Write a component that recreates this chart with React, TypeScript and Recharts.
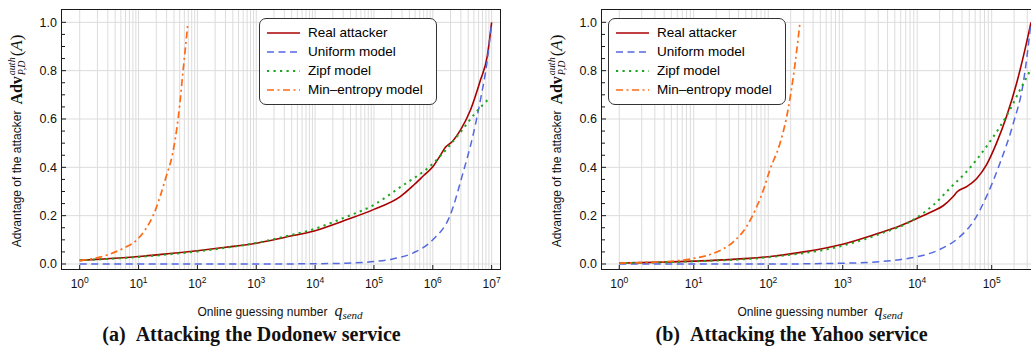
import React from 'react';
import { LineChart, Line, XAxis, YAxis, CartesianGrid, Legend } from 'recharts';

type Pt = [number, number];

// axis ticks
const yTicks = [0, 0.05, 0.1, 0.15, 0.2, 0.25, 0.3, 0.35, 0.4, 0.45, 0.5, 0.55, 0.6, 0.65, 0.7, 0.75, 0.8, 0.85, 0.9, 0.95, 1.0];
const yMajor = [0, 0.2, 0.4, 0.6, 0.8, 1.0];
const dodonewDecades = [1, 10, 100, 1e3, 1e4, 1e5, 1e6, 1e7];
const yahooDecades = [1, 10, 100, 1e3, 1e4, 1e5];
const minorSteps = [1, 2, 3, 4, 5, 6, 7, 8, 9];

// (a) Dodonew, [guesses, advantage]
const dodonewReal: Pt[] = [
  [1, 0.015], [3, 0.022], [10, 0.031], [30, 0.042], [100, 0.055], [300, 0.069],
  [1e3, 0.086], [3e3, 0.11], [1e4, 0.138], [3e4, 0.178], [1e5, 0.226], [2.8e5, 0.279],
  [4.75e5, 0.327], [7e5, 0.366], [1e6, 0.402], [1.35e6, 0.45], [1.64e6, 0.483],
  [2.13e6, 0.506], [2.95e6, 0.554], [4.37e6, 0.637], [6.46e6, 0.761], [8.4e6, 0.858], [1e7, 1.0],
];
const dodonewUniform: Pt[] = [
  [1, 0], [10, 0], [100, 0], [1e3, 0], [1e4, 0.001], [3e4, 0.003], [1e5, 0.01], [2e5, 0.02],
  [4.75e5, 0.047], [1e6, 0.1], [2e6, 0.205], [3.2e6, 0.37], [4.8e6, 0.53], [6.46e6, 0.68],
  [8.4e6, 0.84], [1e7, 1.0],
];
const dodonewZipf: Pt[] = [
  [1, 0.015], [3, 0.021], [10, 0.029], [30, 0.039], [100, 0.052], [300, 0.067], [1e3, 0.087],
  [3e3, 0.113], [1e4, 0.146], [3e4, 0.19], [1e5, 0.245], [2.8e5, 0.318], [1e6, 0.415],
  [2.95e6, 0.545], [5.1e6, 0.62], [9.5e6, 0.69],
];
const dodonewMinEntropy: Pt[] = [
  [1, 0.014], [1.6, 0.021], [2.9, 0.037], [5.5, 0.065], [9.3, 0.099], [12.9, 0.141],
  [17.9, 0.203], [23.2, 0.279], [29.3, 0.36], [38, 0.458], [47.5, 0.61], [58, 0.817], [68.5, 0.99],
];

// (b) Yahoo
const yahooReal: Pt[] = [
  [1, 0.004], [10, 0.012], [30, 0.018], [100, 0.03], [300, 0.05], [1e3, 0.082], [3e3, 0.127],
  [5.8e3, 0.157], [1e4, 0.189], [1.64e4, 0.219], [2.23e4, 0.241], [3.04e4, 0.279],
  [3.44e4, 0.299], [4.6e4, 0.32], [6.3e4, 0.354], [8.5e4, 0.41], [1.16e5, 0.5],
  [1.58e5, 0.61], [2.16e5, 0.748], [2.79e5, 0.886], [3.37e5, 1.0],
];
const yahooUniform: Pt[] = [
  [1, 0], [100, 0], [1e3, 0.003], [5.8e3, 0.018], [1e4, 0.03], [2e4, 0.06], [3.74e4, 0.113],
  [5.65e4, 0.175], [8.5e4, 0.279], [1.29e5, 0.417], [1.95e5, 0.582], [2.65e5, 0.748], [3.37e5, 1.0],
];
const yahooZipf: Pt[] = [
  [1, 0.004], [10, 0.011], [100, 0.028], [1e3, 0.076], [3e3, 0.122], [1e4, 0.193],
  [1.64e4, 0.244], [3.04e4, 0.327], [4.6e4, 0.382], [8.5e4, 0.486], [1.29e5, 0.568],
  [1.75e5, 0.637], [2.39e5, 0.72], [3.37e5, 0.806],
];
const yahooMinEntropy: Pt[] = [
  [1, 0.004], [4.3, 0.01], [9.9, 0.023], [18.3, 0.044], [34, 0.092], [51, 0.154], [70, 0.237],
  [86, 0.306], [105, 0.389], [144, 0.5], [177, 0.61], [217, 0.775], [267, 1.0],
];

const series = [
  { key: 'real', name: 'Real attacker', color: '#a80000', dash: undefined as string | undefined, width: 1.6 },
  { key: 'uniform', name: 'Uniform model', color: '#5468e0', dash: '7 4.5', width: 1.5 },
  { key: 'zipf', name: 'Zipf model', color: '#1fa51f', dash: '2.2 4.3', width: 2 },
  { key: 'minEntropy', name: 'Min\u2013entropy model', color: '#ff6a14', dash: '7 3.5 2 3.5', width: 1.7 },
];

const SANS = '"Liberation Sans", Arial, Helvetica, sans-serif';
const SERIF = '"Liberation Serif", "Times New Roman", serif';
const INK = '#1a1a1a';

const rows = (pts: Pt[]) => pts.map(([x, y]) => ({ x, y }));

const XTick = (props: any) => {
  const { x, y, payload } = props;
  const exp = Math.round(Math.log10(payload.value));
  return (
    <g>
      <line x1={x} x2={x} y1={y} y2={y - 4} stroke={INK} strokeWidth={1} />
      <text x={x} y={y + 18.5} textAnchor="middle" fontSize={12} fill="#111" fontFamily={SANS}>
        10<tspan dy={-5} fontSize={8.5}>{exp}</tspan>
      </text>
    </g>
  );
};

const YTick = (props: any) => {
  const { x, y, payload } = props;
  const major = yMajor.some((v) => Math.abs(v - payload.value) < 1e-6);
  return (
    <g>
      <line x1={x} x2={x + (major ? 4 : 3)} y1={y} y2={y} stroke={INK} strokeWidth={1} />
      {major && (
        <text x={x - 5} y={y} dy="0.35em" textAnchor="end" fontSize={12.5} fill="#111" fontFamily={SANS}>
          {payload.value.toFixed(1)}
        </text>
      )}
    </g>
  );
};

const LegendBox = () => (
  <div
    style={{
      width: 178,
      height: 87.5,
      boxSizing: 'border-box',
      border: '1px solid #333',
      borderRadius: 7,
      background: '#fff',
      paddingTop: 4.5,
      fontFamily: SANS,
    }}
  >
    {series.map((s) => (
      <div key={s.key} style={{ display: 'flex', alignItems: 'center', height: 19 }}>
        <svg width={33} height={6} style={{ marginLeft: 7, marginRight: 8 }}>
          <line x1={0} x2={33} y1={3} y2={3} stroke={s.color} strokeWidth={s.width} strokeDasharray={s.dash} />
        </svg>
        <span style={{ fontSize: 13.5, color: '#000', lineHeight: '19px' }}>{s.name}</span>
      </div>
    ))}
  </div>
);

interface PanelProps {
  left: number;
  width: number;
  yAxisWidth: number;
  marginRight: number;
  xDomain: [number, number];
  decades: number[];
  data: Pt[][];
  legendLeft: number;
  frameRight: boolean;
}

const PLOT_TOP = 10;
const PLOT_H = 259;

const Panel = ({ left, width, yAxisWidth, marginRight, xDomain, decades, data, legendLeft, frameRight }: PanelProps) => {
  const plotW = width - yAxisWidth - marginRight;
  const minor = decades
    .flatMap((d) => minorSteps.map((m) => d * m))
    .filter((v) => v >= xDomain[0] && v <= xDomain[1]);
  return (
    <div style={{ position: 'absolute', left, top: 0, width, height: 300 }}>
      <LineChart width={width} height={300} margin={{ top: PLOT_TOP, right: marginRight, bottom: 0, left: 0 }}>
        <CartesianGrid
          stroke="#dcdcdc"
          strokeWidth={1}
          verticalValues={minor}
          horizontalValues={yMajor}
        />
        <XAxis
          dataKey="x"
          type="number"
          scale="log"
          domain={xDomain}
          allowDataOverflow
          ticks={decades}
          interval={0}
          height={31}
          axisLine={false}
          tickLine={false}
          tickSize={0}
          tickMargin={0}
          tick={XTick}
        />
        <YAxis
          type="number"
          domain={[-0.0207, 1.051]}
          allowDataOverflow
          ticks={yTicks}
          interval={0}
          width={yAxisWidth}
          axisLine={false}
          tickLine={false}
          tickSize={0}
          tickMargin={0}
          tick={YTick}
        />
        <Legend
          layout="vertical"
          align="center"
          verticalAlign="middle"
          content={() => <LegendBox />}
          wrapperStyle={{ left: legendLeft, top: 17.5, width: 178, height: 88 }}
        />
        {series.map((s, i) => (
          <Line
            key={s.key}
            data={rows(data[i])}
            dataKey="y"
            name={s.name}
            type="monotone"
            stroke={s.color}
            strokeWidth={s.width}
            strokeDasharray={s.dash}
            dot={false}
            activeDot={false}
            isAnimationActive={false}
          />
        ))}
      </LineChart>
      <div
        style={{
          position: 'absolute',
          left: yAxisWidth - 0.75,
          top: PLOT_TOP - 0.75,
          width: plotW + 1.5,
          height: PLOT_H + 1.5,
          boxSizing: 'border-box',
          border: `1.5px solid ${INK}`,
          borderRight: frameRight ? `1.5px solid ${INK}` : 'none',
          pointerEvents: 'none',
        }}
      />
    </div>
  );
};

const YLabel = ({ cx }: { cx: number }) => (
  <div
    style={{
      position: 'absolute',
      left: cx,
      top: 141,
      transform: 'translate(-50%, -50%) rotate(-90deg)',
      whiteSpace: 'nowrap',
      display: 'flex',
      alignItems: 'center',
      color: '#111',
    }}
  >
    <span style={{ fontFamily: SANS, fontSize: 12 }}>Advantage of the attacker</span>
    <span style={{ fontFamily: SERIF, fontWeight: 'bold', fontSize: 16, marginLeft: 6 }}>Adv</span>
    <span
      style={{
        display: 'inline-flex',
        flexDirection: 'column',
        fontFamily: SERIF,
        fontStyle: 'italic',
        fontSize: 10,
        lineHeight: '10px',
        marginLeft: 1,
      }}
    >
      <span>auth</span>
      <span>P,D</span>
    </span>
    <span style={{ fontFamily: SERIF, fontSize: 17, marginLeft: 1 }}>
      (<i>A</i>)
    </span>
  </div>
);

const XLabel = ({ cx }: { cx: number }) => (
  <div
    style={{
      position: 'absolute',
      left: cx,
      top: 311,
      transform: 'translate(-50%, -50%)',
      whiteSpace: 'nowrap',
      color: '#111',
      lineHeight: '18px',
    }}
  >
    <span style={{ fontFamily: SANS, fontSize: 12 }}>Online guessing number</span>
    <span style={{ fontFamily: SERIF, fontStyle: 'italic', fontSize: 16, marginLeft: 7 }}>q</span>
    <span style={{ fontFamily: SERIF, fontStyle: 'italic', fontSize: 11, position: 'relative', top: 3 }}>send</span>
  </div>
);

const Caption = ({ cx, tag, text }: { cx: number; tag: string; text: string }) => (
  <div
    style={{
      position: 'absolute',
      left: cx,
      top: 334,
      transform: 'translate(-50%, -50%)',
      whiteSpace: 'nowrap',
      fontFamily: SERIF,
      fontWeight: 'bold',
      fontSize: 20,
      lineHeight: '24px',
      color: '#111',
    }}
  >
    <span style={{ marginRight: 10 }}>{tag}</span>
    {text}
  </div>
);

export default function App() {
  return (
    <div
      style={{
        position: 'absolute',
        left: 0,
        top: 0,
        width: 1031,
        height: 350,
        background: '#fff',
        overflow: 'hidden',
      }}
    >
      <Panel
        left={0}
        width={515}
        yAxisWidth={62}
        marginRight={15}
        xDomain={[0.5, 1.387e7]}
        decades={dodonewDecades}
        data={[dodonewReal, dodonewUniform, dodonewZipf, dodonewMinEntropy]}
        legendLeft={259}
        frameRight
      />
      <Panel
        left={515}
        width={516}
        yAxisWidth={87}
        marginRight={0}
        xDomain={[0.586, 3.37e5]}
        decades={yahooDecades}
        data={[yahooReal, yahooUniform, yahooZipf, yahooMinEntropy]}
        legendLeft={93}
        frameRight={false}
      />
      <YLabel cx={17} />
      <YLabel cx={557} />
      <XLabel cx={280} />
      <XLabel cx={820} />
      <Caption cx={251.5} tag="(a)" text="Attacking the Dodonew service" />
      <Caption cx={791.5} tag="(b)" text="Attacking the Yahoo service" />
    </div>
  );
}
